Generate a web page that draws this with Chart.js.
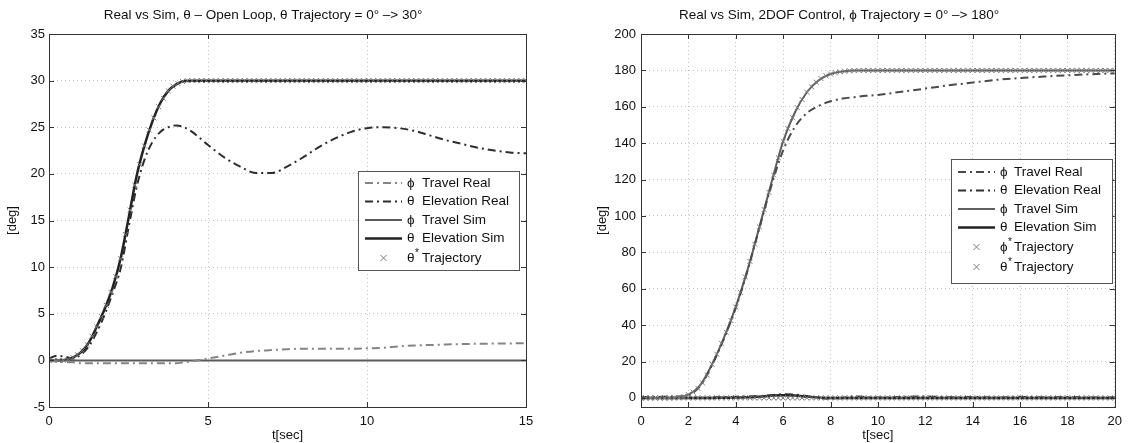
<!DOCTYPE html>
<html>
<head>
<meta charset="utf-8">
<script src="https://cdn.jsdelivr.net/npm/chart.js@4.4.1/dist/chart.umd.min.js"></script>
<style>
  body { margin: 0; background: #fff; }
  #wrap { position: relative; width: 1129px; height: 443px; }
  canvas { position: absolute; top: 0; }
  #left-chart { left: 0; }
  #right-chart { left: 560px; }
</style>
</head>
<body>
<div id="wrap">
  <canvas id="left-chart" width="560" height="443"></canvas>
  <canvas id="right-chart" width="569" height="443"></canvas>
</div>
<script>
// ---- left plot: theta open loop, 0 -> 30 deg ----
const leftT = [0, 0.25, 0.5, 0.75, 1, 1.25, 1.5, 1.75, 2, 2.25, 2.5, 2.75, 3, 3.25, 3.5, 3.75, 4, 4.25, 4.5,
  5, 5.5, 6, 6.5, 7, 7.5, 8, 8.5, 9, 9.5, 10, 10.5, 11, 11.5, 12, 12.5, 13, 13.5, 14, 14.5, 15];
const leftTravelReal = [-0.1, -0.1, -0.2, -0.2, -0.3, -0.3, -0.3, -0.3, -0.3, -0.3, -0.3, -0.3, -0.3, -0.3, -0.3, -0.3, -0.3, -0.2, -0.1,
  0.2, 0.5, 0.8, 1.0, 1.1, 1.2, 1.25, 1.25, 1.25, 1.25, 1.3, 1.35, 1.5, 1.6, 1.65, 1.7, 1.75, 1.78, 1.8, 1.82, 1.85];
const leftElevReal = [0.2, 0.5, 0.4, 0.2, 0.6, 1.5, 3.0, 4.9, 7.2, 9.8, 14.2, 18.5, 21.5, 23.4, 24.5, 25.0, 25.2, 25.0, 24.5,
  23.1, 21.8, 20.8, 20.1, 20.1, 20.8, 21.8, 22.9, 23.8, 24.5, 24.9, 25.0, 24.9, 24.6, 24.1, 23.6, 23.2, 22.8, 22.5, 22.3, 22.2];
const leftTravelSim = [0, 0, 0, 0, 0, 0, 0, 0, 0, 0, 0, 0, 0, 0, 0, 0, 0, 0, 0,
  0, 0, 0, 0, 0, 0, 0, 0, 0, 0, 0, 0, 0, 0, 0, 0, 0, 0, 0, 0, 0];
const leftElevSim = [0, 0, 0.05, 0.3, 0.85, 1.9, 3.6, 5.5, 7.8, 10.9, 15.2, 19.7, 23.0, 25.6, 27.6, 28.9, 29.6, 29.95, 30,
  30, 30, 30, 30, 30, 30, 30, 30, 30, 30, 30, 30, 30, 30, 30, 30, 30, 30, 30, 30, 30];
const leftTrajStep = 0.15;
const leftTheta = [
  0, 0, 0, 0, 0.1, 0.3, 0.6, 1.05, 1.7, 2.6,
  3.6, 4.7, 5.9, 7.3, 9.0, 10.9, 13.5, 16.1, 18.8, 21.0,
  23.0, 24.7, 26.0, 27.2, 28.1, 28.9, 29.4, 29.7, 29.9, 30,
  30, 30, 30, 30, 30, 30, 30, 30, 30, 30,
  30, 30, 30, 30, 30, 30, 30, 30, 30, 30,
  30, 30, 30, 30, 30, 30, 30, 30, 30, 30,
  30, 30, 30, 30, 30, 30, 30, 30, 30, 30,
  30, 30, 30, 30, 30, 30, 30, 30, 30, 30,
  30, 30, 30, 30, 30, 30, 30, 30, 30, 30,
  30, 30, 30, 30, 30, 30, 30, 30, 30, 30,
  30];
const leftXTicks = [0, 5, 10, 15];
const leftYTicks = [-5, 0, 5, 10, 15, 20, 25, 30, 35];

// ---- right plot: 2DOF control, phi 0 -> 180 deg ----
const rightT = [0, 0.5, 1, 1.5, 2, 2.5, 3, 3.5, 4, 4.5, 5, 5.5, 6, 6.5, 7, 7.5, 8, 8.5, 9, 9.5, 10,
  11, 12, 13, 14, 15, 16, 17, 18, 19, 20];
const rightTravelReal = [0, 0, 0, 0.2, 1.5, 6.5, 18, 32.5, 49.5, 70, 93.5, 116.5, 136, 149, 156.5, 160.5, 163, 164.5, 165.3, 166, 166.5,
  168.3, 170, 171.8, 173.3, 174.8, 175.8, 176.6, 177.3, 177.9, 178.4];
const rightElevReal = [0.5, 0.5, 0.6, 0.8, 0.5, 0, 0.3, 0.5, 0.6, 0.8, 1.0, 1.5, 2.0, 1.8, 1.0, 0, -0.5, 0, 0.8, 0.5, 0.2,
  0.5, 0.8, 0.3, 0.5, 0.2, 0.6, 0.3, 0.5, 0.2, 0.3];
const rightTravelSim = [0, 0, 0, 0.3, 1.8, 7, 18.5, 33, 50, 70.5, 94, 118, 141, 157, 168, 174.5, 178, 179.4, 179.9, 180, 180,
  180, 180, 180, 180, 180, 180, 180, 180, 180, 180];
const rightElevSim = [0, 0, 0, 0, 0, 0, 0, 0.1, 0.2, 0.3, 0.7, 1.2, 1.5, 1.3, 0.7, 0.2, -0.1, 0, 0, 0, 0,
  0, 0, 0, 0, 0, 0, 0, 0, 0, 0];
const rightTrajStep = 0.2;
const rightPhi = [
  0, 0, 0, 0, 0, 0, 0, 0.1, 0.3, 0.9,
  1.8, 3.2, 5.3, 8.2, 12.5, 18.5, 24, 30, 36, 42.5,
  50, 58, 66.5, 75, 84.5, 94, 103.5, 113, 122.5, 132,
  141, 148, 154, 159.5, 164, 168, 171, 173.5, 175.5, 177,
  178, 178.7, 179.2, 179.5, 179.8, 179.9, 180, 180, 180, 180,
  180, 180, 180, 180, 180, 180, 180, 180, 180, 180,
  180, 180, 180, 180, 180, 180, 180, 180, 180, 180,
  180, 180, 180, 180, 180, 180, 180, 180, 180, 180,
  180, 180, 180, 180, 180, 180, 180, 180, 180, 180,
  180, 180, 180, 180, 180, 180, 180, 180, 180, 180,
  180];
const rightTheta = [
  0, 0, 0, 0, 0, 0, 0, 0, 0, 0,
  0, 0, 0, 0, 0, 0, 0, 0, 0, 0,
  0, 0, 0, 0, 0, 0, 0, 0, 0, 0,
  0, 0, 0, 0, 0, 0, 0, 0, 0, 0,
  0, 0, 0, 0, 0, 0, 0, 0, 0, 0,
  0, 0, 0, 0, 0, 0, 0, 0, 0, 0,
  0, 0, 0, 0, 0, 0, 0, 0, 0, 0,
  0, 0, 0, 0, 0, 0, 0, 0, 0, 0,
  0, 0, 0, 0, 0, 0, 0, 0, 0, 0,
  0, 0, 0, 0, 0, 0, 0, 0, 0, 0,
  0];
const rightXTicks = [0, 2, 4, 6, 8, 10, 12, 14, 16, 18, 20];
const rightYTicks = [0, 20, 40, 60, 80, 100, 120, 140, 160, 180, 200];

const FONT = "'Liberation Sans', Arial, Helvetica, sans-serif";
const INK = "#111";
const DASH_DOT = [8, 4, 2, 4];
const LEGEND_FONT = "13.5px " + FONT;

function pairs(xs, ys) {
  return ys.map((y, i) => ({ x: xs[i], y }));
}

function sampled(step, ys) {
  return ys.map((y, i) => ({ x: +(i * step).toFixed(2), y }));
}

function lineSet(label, xs, ys, color, dash, width) {
  return {
    label,
    data: pairs(xs, ys),
    borderColor: color,
    borderWidth: width || 2,
    borderDash: dash || [],
    pointRadius: 0,
    fill: false,
    cubicInterpolationMode: "monotone",
    order: 2,
  };
}

function markerSet(label, step, ys) {
  return {
    label,
    data: sampled(step, ys),
    showLine: false,
    pointStyle: "crossRot",
    pointRadius: 3.5,
    borderColor: "#7a7a7a",
    backgroundColor: "#7a7a7a",
    borderWidth: 1,
    order: 1,
  };
}

// box round the plot area, with MATLAB-style inward ticks on all four sides
const axesBox = {
  id: "axesBox",
  afterDatasetsDraw(chart) {
    const { ctx, chartArea: a, scales } = chart;
    const len = 5;
    ctx.save();
    ctx.strokeStyle = "#333";
    ctx.lineWidth = 1;
    ctx.strokeRect(Math.round(a.left) + 0.5, Math.round(a.top) + 0.5,
      Math.round(a.right - a.left), Math.round(a.bottom - a.top));
    ctx.beginPath();
    scales.x.ticks.forEach((t) => {
      const px = Math.round(scales.x.getPixelForValue(t.value)) + 0.5;
      ctx.moveTo(px, a.bottom); ctx.lineTo(px, a.bottom - len);
      ctx.moveTo(px, a.top); ctx.lineTo(px, a.top + len);
    });
    scales.y.ticks.forEach((t) => {
      const py = Math.round(scales.y.getPixelForValue(t.value)) + 0.5;
      ctx.moveTo(a.left, py); ctx.lineTo(a.left + len, py);
      ctx.moveTo(a.right, py); ctx.lineTo(a.right - len, py);
    });
    ctx.stroke();
    ctx.restore();
  },
};

// legend box drawn inside the axes
const insetLegend = {
  id: "insetLegend",
  afterDraw(chart, args, opts) {
    const { ctx } = chart;
    const b = opts.box;
    ctx.save();
    ctx.fillStyle = "#fff";
    ctx.fillRect(b.x, b.y, b.w, b.h);
    ctx.strokeStyle = "#555";
    ctx.lineWidth = 1;
    ctx.strokeRect(b.x + 0.5, b.y + 0.5, b.w, b.h);
    ctx.font = LEGEND_FONT;
    ctx.textBaseline = "middle";
    opts.rows.forEach((row, i) => {
      const y = opts.rowY[i];
      const ds = chart.data.datasets[row.ds];
      if (ds.showLine === false) {
        const cx = (opts.lineX1 + opts.lineX2) / 2;
        ctx.strokeStyle = ds.borderColor;
        ctx.lineWidth = 1;
        ctx.beginPath();
        ctx.moveTo(cx - 3, y - 3); ctx.lineTo(cx + 3, y + 3);
        ctx.moveTo(cx + 3, y - 3); ctx.lineTo(cx - 3, y + 3);
        ctx.stroke();
      } else {
        ctx.strokeStyle = ds.borderColor;
        ctx.lineWidth = ds.borderWidth;
        ctx.setLineDash(ds.borderDash || []);
        ctx.beginPath();
        ctx.moveTo(opts.lineX1, y); ctx.lineTo(opts.lineX2, y);
        ctx.stroke();
        ctx.setLineDash([]);
      }
      ctx.fillStyle = INK;
      ctx.fillText(row.sym, opts.symX, y);
      if (row.sup) {
        ctx.font = "10px " + FONT;
        ctx.fillText("*", opts.symX + 8, y - 5);
        ctx.font = LEGEND_FONT;
      }
      ctx.fillText(row.text, opts.textX, y);
    });
    ctx.restore();
  },
};

function axisOptions(min, max, ticks, title, fit, titlePad, labelPad) {
  return {
    type: "linear",
    min,
    max,
    afterBuildTicks: (s) => { s.ticks = ticks.map((v) => ({ value: v })); },
    afterFit: (s) => { if (s.isHorizontal()) s.height = fit; else s.width = fit; },
    ticks: { color: INK, font: { family: FONT, size: 13 }, padding: labelPad, maxRotation: 0, autoSkip: false },
    grid: { color: "#c4c4c4", lineWidth: 1, drawTicks: false },
    border: { display: false, dash: [1, 3] },
    title: { display: true, text: title, color: INK, font: { family: FONT, size: 13 }, padding: titlePad },
  };
}

function baseOptions(titleText, padRight, xAxis, yAxis, legend) {
  return {
    responsive: false,
    animation: false,
    devicePixelRatio: 1,
    layout: { padding: { left: 0, right: padRight, top: 0, bottom: 0 } },
    plugins: {
      legend: { display: false },
      tooltip: { enabled: false },
      title: {
        display: true,
        text: titleText,
        color: INK,
        font: { family: FONT, size: 13.5, weight: "normal" },
        padding: { top: 7, bottom: 10.8 },
      },
      insetLegend: legend,
    },
    scales: { x: xAxis, y: yAxis },
  };
}

new Chart(document.getElementById("left-chart"), {
  type: "line",
  data: {
    datasets: [
      lineSet("ϕ Travel Real", leftT, leftTravelReal, "#858585", DASH_DOT),
      lineSet("θ Elevation Real", leftT, leftElevReal, "#2e2e2e", DASH_DOT),
      lineSet("ϕ Travel Sim", leftT, leftTravelSim, "#5a5a5a"),
      lineSet("θ Elevation Sim", leftT, leftElevSim, "#222", [], 2.5),
      markerSet("θ* Trajectory", leftTrajStep, leftTheta),
    ],
  },
  options: baseOptions(
    "Real vs Sim, θ – Open Loop, θ Trajectory = 0° –> 30°",
    34,
    axisOptions(0, 15, leftXTicks, "t[sec]", 36, { top: 0, bottom: 0 }, 7),
    axisOptions(-5, 35, leftYTicks, "[deg]", 49, { top: 5, bottom: 0 }, 4),
    {
      box: { x: 358, y: 171, w: 161, h: 99 },
      rowY: [183, 201.5, 220, 238.5, 258],
      lineX1: 365, lineX2: 402, symX: 407, textX: 422,
      rows: [
        { ds: 0, sym: "ϕ", text: "Travel Real" },
        { ds: 1, sym: "θ", text: "Elevation Real" },
        { ds: 2, sym: "ϕ", text: "Travel Sim" },
        { ds: 3, sym: "θ", text: "Elevation Sim" },
        { ds: 4, sym: "θ", sup: true, text: "Trajectory" },
      ],
    }
  ),
  plugins: [axesBox, insetLegend],
});

new Chart(document.getElementById("right-chart"), {
  type: "line",
  data: {
    datasets: [
      lineSet("ϕ Travel Real", rightT, rightTravelReal, "#4a4a4a", DASH_DOT),
      lineSet("θ Elevation Real", rightT, rightElevReal, "#2e2e2e", DASH_DOT),
      lineSet("ϕ Travel Sim", rightT, rightTravelSim, "#5f5f5f"),
      lineSet("θ Elevation Sim", rightT, rightElevSim, "#222", [], 2.5),
      markerSet("ϕ* Trajectory", rightTrajStep, rightPhi),
      markerSet("θ* Trajectory", rightTrajStep, rightTheta),
    ],
  },
  options: baseOptions(
    "Real vs Sim, 2DOF Control, ϕ Trajectory = 0° –> 180°",
    11,
    axisOptions(0, 20, rightXTicks, "t[sec]", 36, { top: 0, bottom: 0 }, 7),
    axisOptions(-5, 200, rightYTicks, "[deg]", 81, { top: 35, bottom: 0 }, 5),
    {
      box: { x: 391, y: 159, w: 161, h: 124 },
      rowY: [172, 190.5, 209, 227.5, 247, 267],
      lineX1: 398, lineX2: 435, symX: 440, textX: 454,
      rows: [
        { ds: 0, sym: "ϕ", text: "Travel Real" },
        { ds: 1, sym: "θ", text: "Elevation Real" },
        { ds: 2, sym: "ϕ", text: "Travel Sim" },
        { ds: 3, sym: "θ", text: "Elevation Sim" },
        { ds: 4, sym: "ϕ", sup: true, text: "Trajectory" },
        { ds: 5, sym: "θ", sup: true, text: "Trajectory" },
      ],
    }
  ),
  plugins: [axesBox, insetLegend],
});
</script>
</body>
</html>
